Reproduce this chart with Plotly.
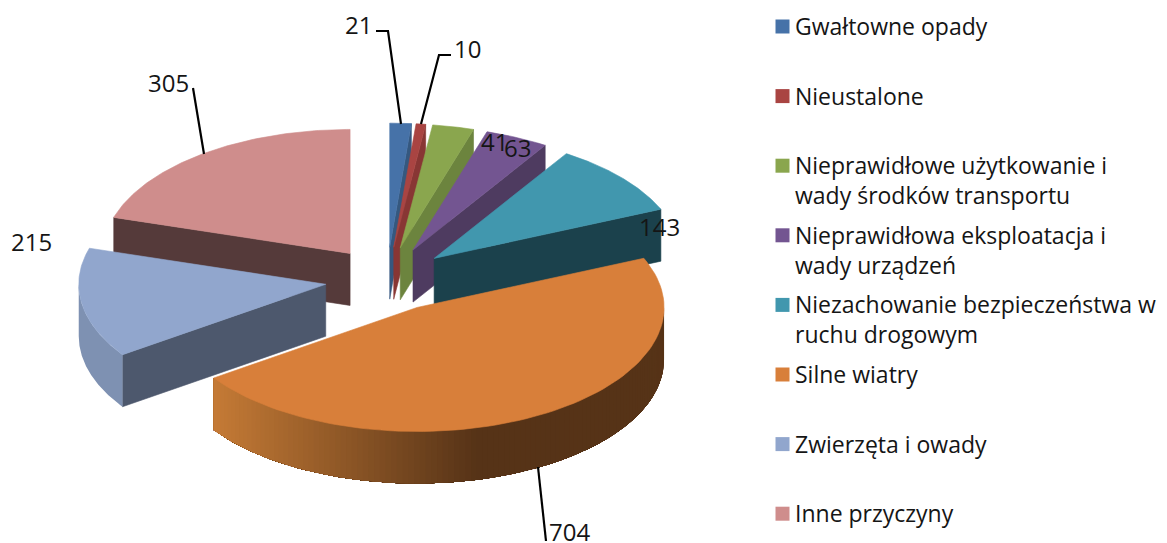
import numpy as np
import plotly.graph_objects as go

categories = ["Gwałtowne opady", "Nieustalone", "Nieprawidłowe użytkowanie i<br>wady środków transportu",
              "Nieprawidłowa eksploatacja i<br>wady urządzeń", "Niezachowanie bezpieczeństwa w<br>ruchu drogowym",
              "Silne wiatry", "Zwierzęta i owady", "Inne przyczyny"]
values = [21, 10, 41, 63, 143, 704, 215, 305]
top_colors = ["#4672a8", "#a94442", "#8aa64e", "#735591", "#4197ae", "#d87f3a", "#91a6cd", "#cf8d8c"]
wall_colors = ["#35587f", "#883634", "#6c843e", "#4e3b60", "#1b414c", "#563317", "#4d586d", "#553a3a"]
rim_colors = ["#35587f", "#883634", "#6c843e", "#4e3b60", "#1b414c", "#563317", "#7e91b2", "#553a3a"]

CX, CY, RX, RY, DEPTH, EXPLODE_X, EXPLODE_Y = 387, 279.3, 247, 124, 52, 62, 32.2
FONT = "Open Sans"
TEXT = "#151515"

total = sum(values)
bounds = np.radians(np.cumsum([0] + values) / total * 360)
fig = go.Figure()


def poly(x, y, color, width=0.6):
    x, y = list(x), list(y)
    fig.add_trace(go.Scatter(x=x + x[:1], y=y + y[:1], mode="lines", fill="toself", fillcolor=color,
                             line=dict(color=color, width=width), hoverinfo="skip", showlegend=False))


def lerp_hex(a, b, t):
    ca = [int(a[i:i + 2], 16) for i in (1, 3, 5)]
    cb = [int(b[i:i + 2], 16) for i in (1, 3, 5)]
    return "#%02x%02x%02x" % tuple(round(p + (q - p) * t) for p, q in zip(ca, cb))


order = [7, 0, 1, 2, 3, 4, 6, 5]
for i in order:
    a0, a1 = bounds[i], bounds[i + 1]
    mid = (a0 + a1) / 2
    ax = CX + EXPLODE_X * np.sin(mid)
    ay = CY - EXPLODE_Y * np.cos(mid)
    px = lambda t: ax + RX * np.sin(t)
    py = lambda t: ay - RY * np.cos(t)
    # flat walls facing the viewer
    for edge, visible in ((a1, 0 < a1 < np.pi), (a0, np.pi < a0 < 2 * np.pi)):
        if visible:
            poly([ax, px(edge), px(edge), ax], [ay, py(edge), py(edge) + DEPTH, ay + DEPTH], wall_colors[i])
    # outer rim: each band runs on to the end of the rim and the next one paints over it, so no seams show
    lo, hi = max(a0, np.pi / 2), min(a1, 3 * np.pi / 2)
    if hi > lo:
        arc = np.linspace(lo, hi, 120)
        if i == 5:
            starts = np.linspace(lo, hi, 110)[:-1]
        else:
            starts = [lo]
        for s in starts:
            part = np.r_[s, arc[arc > s]]
            c = rim_colors[i]
            if i == 5:
                c = lerp_hex("#c67b36", "#563317", float(np.clip((px(s) - 213) / 267, 0, 1)))
            poly(list(px(part)) + list(px(part[::-1])),
                 list(py(part)) + list(py(part[::-1]) + DEPTH), c, width=0)
    arc = np.linspace(a0, a1, 90)
    poly([ax] + list(px(arc)), [ay] + list(py(arc)), top_colors[i])

# leader lines
leaders = [([376, 388, 401], [31, 31, 124]), ([451, 439, 421], [55, 55, 124]),
           ([193, 204], [88, 154]), ([538, 546], [467, 541])]
for lx, ly in leaders:
    fig.add_trace(go.Scatter(x=lx, y=ly, mode="lines", line=dict(color="#000000", width=2.2),
                             hoverinfo="skip", showlegend=False))

# data labels
label_pos = [(358, 24), (467, 48), (494, 141), (517, 147), (659, 226), (569, 531), (31, 241), (168, 82)]
for v, (lx, ly) in zip(values, label_pos):
    fig.add_annotation(x=lx, y=ly, text=str(v), showarrow=False, xanchor="center", yanchor="middle",
                       font=dict(family=FONT, size=24, color=TEXT))

# key
key_y = [26.5 + 69.6 * i for i in range(len(categories))]
fig.add_trace(go.Scatter(x=[782.5] * len(categories), y=key_y, mode="markers",
                         marker=dict(symbol="square", size=14, color=top_colors),
                         hoverinfo="skip", showlegend=False))
for name, y in zip(categories, key_y):
    fig.add_annotation(x=796, y=y - 18.5, text=name, showarrow=False, xanchor="left", yanchor="top", align="left",
                       xshift=-3, font=dict(family=FONT, size=23, color=TEXT))

fig.update_layout(width=1167, height=543, margin=dict(l=0, r=0, t=0, b=0), showlegend=False,
                  paper_bgcolor="white", plot_bgcolor="white",
                  xaxis=dict(range=[0, 1167], visible=False, fixedrange=True),
                  yaxis=dict(range=[543, 0], visible=False, fixedrange=True))
fig.write_html("out.html", config={"displayModeBar": False}, post_script="document.body.style.margin='0';")
